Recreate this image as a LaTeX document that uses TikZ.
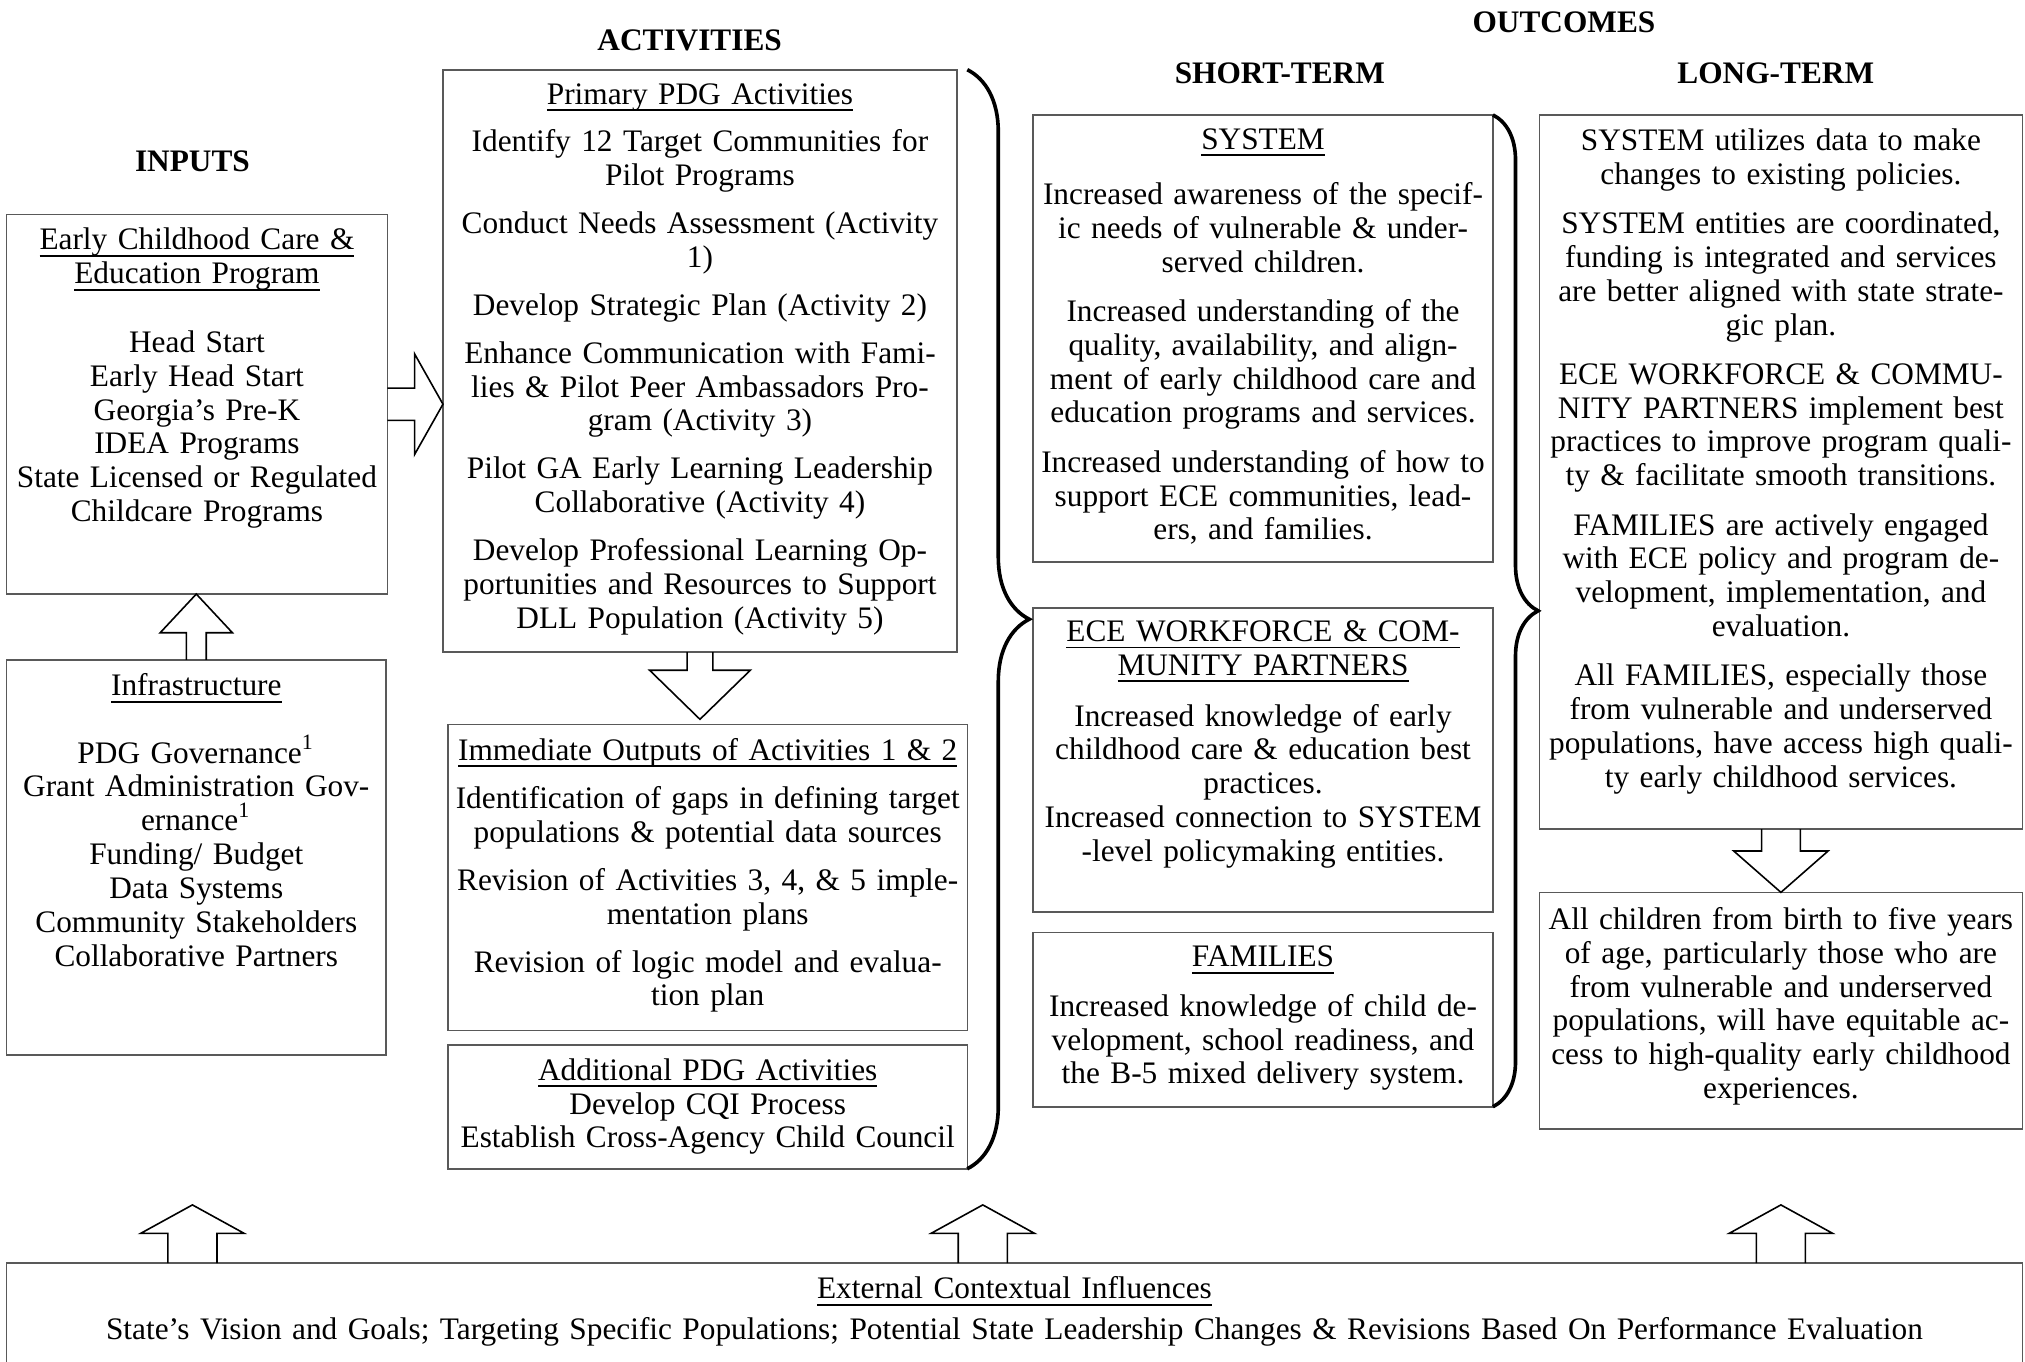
\documentclass[tikz,border=0pt]{standalone}
\usepackage{fontspec}
\setmainfont{Liberation Serif}
\usetikzlibrary{
        positioning,
        decorations.pathreplacing
    }
\newcommand{\bodyfont}{\fontsize{6.9}{7.45}\selectfont}
% underline that does not push the next line down
\newcommand{\ulbox}[1]{\leavevmode\setbox0=\hbox{#1}\rlap{\raisebox{-1.5pt}[0pt][0pt]{\rule{\wd0}{0.4pt}}}\box0}
% hollow block arrow: base, angle, length, body half width, head half width, head length
\newcommand{\blockarrow}[6]{%
  \draw[arrowline,rotate around={#2:#1}] #1 ++(-#4,0) -- ++(0,-#3+#6) -- ++(-#5+#4,0)
    -- ++(#5,-#6) -- ++(#5,#6) -- ++(-#5+#4,0) -- ++(0,#3-#6);}
\tikzset{box/.style={rectangle,draw=black!65,line width=0.35pt,inner sep=0pt,outer sep=0pt,anchor=north west}}
\tikzset{boxtext/.style={inner sep=0pt,align=center,font=\bodyfont}}
\tikzset{head/.style={inner sep=0pt,font=\bodyfont\bfseries}}
\tikzset{arrowline/.style={draw=black,line width=0.35pt}}
\tikzset{bigbrace/.style={decorate,decoration={brace,amplitude=#1,aspect=0.5},line width=0.8pt}}

\begin{document}
\begin{tikzpicture}[x=0.1mm,y=-0.1mm]
                \useasboundingbox (0,0) rectangle (1568,1054);
                % headings
                \node[head] (inputs)    at (149,125)  {INPUTS};
                \node[head] (activities) at (534,31)  {ACTIVITIES};
                \node[head] (outcomes)  at (1211,17)  {OUTCOMES};
                \node[head] (shortterm) at (991,57)   {SHORT-TERM};
                \node[head] (longterm)  at (1375,57)  {LONG-TERM};
                % inputs
                \node[box,minimum width=29.5mm,minimum height=29.4mm] (ecce) at (5,166) {};
                \node[boxtext,text width=29.1mm,below=1mm of ecce.north] (eccetxt)
                    {\ulbox{Early Childhood Care \&}\\\ulbox{Education Program}\\[2.7mm]
                     Head Start\\Early Head Start\\Georgia's Pre-K\\IDEA Programs\\
                     State Licensed or Regulated\\Childcare Programs};
                \node[box,minimum width=29.4mm,minimum height=30.6mm] (infra) at (5,511) {};
                \node[boxtext,text width=29mm,below=1mm of infra.north] (infratxt)
                    {\ulbox{Infrastructure}\\[2.6mm]
                     PDG Governance\textsuperscript{1}\\Grant Administration Gov-\\
                     ernance\textsuperscript{1}\\Funding/ Budget\\Data Systems\\
                     Community Stakeholders\\Collaborative Partners};
                % activities
                \node[box,minimum width=39.8mm,minimum height=45.1mm] (prim) at (343,54) {};
                \node[boxtext,text width=39.4mm,below=1mm of prim.north] (primtxt)
                    {\ulbox{Primary PDG Activities}\\[1.05mm]
                     Identify 12 Target Communities for\\Pilot Programs\\[1.1mm]
                     Conduct Needs Assessment (Activity\\1)\\[1.1mm]
                     Develop Strategic Plan (Activity 2)\\[1.1mm]
                     Enhance Communication with Fami-\\lies \& Pilot Peer Ambassadors Pro-\\
                     gram (Activity 3)\\[1.1mm]
                     Pilot GA Early Learning Leadership\\Collaborative (Activity 4)\\[1.1mm]
                     Develop Professional Learning Op-\\portunities and Resources to Support\\
                     DLL Population (Activity 5)};
                \node[box,minimum width=40.2mm,minimum height=23.7mm] (imm) at (347,561) {};
                \node[boxtext,text width=39.8mm,below=1mm of imm.north] (immtxt)
                    {\ulbox{Immediate Outputs of Activities 1 \& 2}\\[1.1mm]
                     Identification of gaps in defining target\\
                     populations \& potential data sources\\[1.1mm]
                     Revision of Activities 3, 4, \& 5 imple-\\mentation plans\\[1.1mm]
                     Revision of logic model and evalua-\\tion plan};
                \node[box,minimum width=40.2mm,minimum height=9.6mm] (add) at (347,809) {};
                \node[boxtext,text width=39.8mm,below=1mm of add.north] (addtxt)
                    {\ulbox{Additional PDG Activities}\\Develop CQI Process\\
                     Establish Cross-Agency Child Council};
                % short-term outcomes
                \node[box,minimum width=35.6mm,minimum height=34.6mm] (sys) at (800,89) {};
                \node[boxtext,text width=35.2mm,below=1mm of sys.north] (systxt)
                    {\ulbox{SYSTEM}\\[1.65mm]
                     Increased awareness of the specif-\\ic needs of vulnerable \& under-\\
                     served children.\\[1.2mm]
                     Increased understanding of the\\quality, availability, and align-\\
                     ment of early childhood care and\\education programs and services.\\[1.2mm]
                     Increased understanding of how to\\support ECE communities, lead-\\
                     ers, and families.};
                \node[box,minimum width=35.6mm,minimum height=23.5mm] (ece) at (800,471) {};
                \node[boxtext,text width=35.2mm,below=0.9mm of ece.north] (ecetxt)
                    {\ulbox{ECE WORKFORCE \& COM-}\\\ulbox{MUNITY PARTNERS}\\[1.3mm]
                     Increased knowledge of early\\childhood care \& education best\\
                     practices.\\Increased connection to SYSTEM\\-level policymaking entities.};
                \node[box,minimum width=35.6mm,minimum height=13.5mm] (fam) at (800,722) {};
                \node[boxtext,text width=35.2mm,below=1mm of fam.north] (famtxt)
                    {\ulbox{FAMILIES}\\[1.2mm]
                     Increased knowledge of child de-\\velopment, school readiness, and\\
                     the B-5 mixed delivery system.};
                % long-term outcomes
                \node[box,minimum width=37.4mm,minimum height=55.3mm] (long) at (1192,89) {};
                \node[boxtext,text width=37mm,below=1mm of long.north] (longtxt)
                    {SYSTEM utilizes data to make\\changes to existing policies.\\[1.2mm]
                     SYSTEM entities are coordinated,\\funding is integrated and services\\
                     are better aligned with state strate-\\gic plan.\\[1.2mm]
                     ECE WORKFORCE \& COMMU-\\NITY PARTNERS implement best\\
                     practices to improve program quali-\\ty \& facilitate smooth transitions.\\[1.2mm]
                     FAMILIES are actively engaged\\with ECE policy and program de-\\
                     velopment, implementation, and\\evaluation.\\[1.2mm]
                     All FAMILIES, especially those\\from vulnerable and underserved\\
                     populations, have access high quali-\\ty early childhood services.};
                \node[box,minimum width=37.4mm,minimum height=18.3mm] (final) at (1192,691) {};
                \node[boxtext,text width=37mm,below=1.1mm of final.north] (finaltxt)
                    {All children from birth to five years\\of age, particularly those who are\\
                     from vulnerable and underserved\\populations, will have equitable ac-\\
                     cess to high-quality early childhood\\experiences.};
                % external influences
                \node[box,minimum width=156.1mm,minimum height=8mm] (ext) at (5,978) {};
                \node[boxtext,text width=155mm,below=1mm of ext.north] (exttxt)
                    {\ulbox{External Contextual Influences}\\[0.5mm]
                     State's Vision and Goals; Targeting Specific Populations; Potential State
                     Leadership Changes \& Revisions Based On Performance Evaluation};
                \coordinate (e1) at ([xshift=14.4mm]ext.north west);
                \coordinate (e2) at ([xshift=75.6mm]ext.north west);
                \coordinate (e3) at ([xshift=137.4mm]ext.north west);
                % block arrows
                \blockarrow{(ecce.east)}{-90}{43}{12.5}{39}{22}
                \blockarrow{(infra.north)}{0}{51}{7.7}{28}{30}
                \blockarrow{(prim.south)}{180}{52}{10}{39}{38}
                \blockarrow{(long.south)}{180}{49}{15}{36.5}{32}
                \blockarrow{(e1)}{0}{45}{19}{40}{22}
                \blockarrow{(e2)}{0}{45}{19}{40}{22}
                \blockarrow{(e3)}{0}{45}{19}{40}{22}
                % braces
                \draw[bigbrace=4.8mm] (prim.north east -| add.east) -- (add.south east);
                \draw[bigbrace=3.5mm] (sys.north east) -- (fam.south east);
            \end{tikzpicture}
\end{document}
